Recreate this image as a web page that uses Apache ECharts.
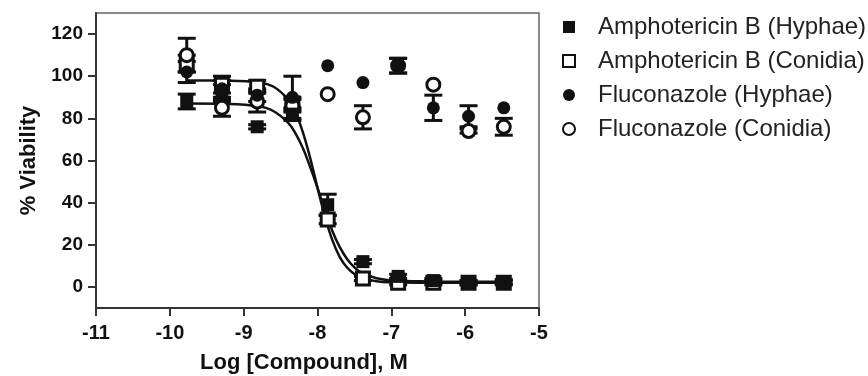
<!DOCTYPE html>
<html>
<head>
<meta charset="utf-8">
<script src="https://cdn.jsdelivr.net/npm/echarts@6/dist/echarts.min.js"></script>
<style>
  html, body { margin: 0; padding: 0; background: #fff; }
  #chart { width: 868px; height: 376px; }
</style>
</head>
<body>
<div id="chart"></div>
<script>
// log10 of compound concentration (M), 3-fold dilution series
const logConc = [-9.771, -9.294, -8.817, -8.340, -7.862, -7.385, -6.908, -6.431, -5.954, -5.477]

// % viability (mean) and error (SEM)
const amphoHyphae = [88, 92, 76, 82, 39, 12, 5, 3, 2, 2.5]
const amphoHyphaeErr = [3.5, 4, 1, 3, 5, 1, 1, 1, 1, 1]
const amphoConidia = [106, 96, 95, 87, 32, 4, 2, 2, 2, 2]
const amphoConidiaErr = [4, 4, 3, 3, 2, 1, 1, 1, 1, 1]
const flucoHyphae = [102, 94, 91, 90, 105, 97, 105, 85, 81, 85]
const flucoHyphaeErr = [5, 4, 3, 10, 0, 0, 3.5, 6, 5, 0]
const flucoConidia = [110, 85, 88, 86, 91.5, 80.5, 105, 96, 74, 76]
const flucoConidiaErr = [8, 4, 5, 3, 0, 5.5, 3.5, 0, 1, 4]

// fitted dose-response curves
const fitX = [-9.771, -9.2, -8.8, -8.6, -8.4, -8.3, -8.2, -8.1, -8.0, -7.9, -7.8, -7.7, -7.6, -7.5, -7.4, -7.2, -7.0, -6.5, -6.0, -5.477]
const fitHyphae = [87, 86.8, 85.7, 83.5, 78, 73, 66, 57, 47, 36.3, 26.7, 19, 13.3, 9.3, 6.7, 4.1, 3.1, 2.6, 2.5, 2.5]
const fitConidia = [98, 97.9, 97.1, 95.1, 89, 82.9, 73.6, 61.3, 47.1, 33.5, 22.3, 14.3, 9.2, 6.1, 4.3, 2.7, 2.2, 2, 2, 2]

const seriesNames = ['Amphotericin B (Hyphae)', 'Amphotericin B (Conidia)', 'Fluconazole (Hyphae)', 'Fluconazole (Conidia)']
const yTicks = [0, 20, 40, 60, 80, 100, 120]
const xTitle = 'Log [Compound], M'

const ink = '#111'
const squareIcon = 'path://M0,0H10V10H0Z'

const pairs = (xs, ys) => xs.map((x, i) => [x, ys[i]])
const bars = (vals, errs) => logConc.map((x, i) => [x, vals[i] - errs[i], vals[i] + errs[i]])

function errorBar(params, api) {
  const x = api.value(0)
  const lo = api.coord([x, api.value(1)])
  const hi = api.coord([x, api.value(2)])
  if (Math.abs(lo[1] - hi[1]) < 0.5) return null
  const w = 9
  const style = { stroke: ink, lineWidth: 3 }
  return {
    type: 'group',
    children: [
      { type: 'line', shape: { x1: lo[0], y1: lo[1], x2: hi[0], y2: hi[1] }, style },
      { type: 'line', shape: { x1: hi[0] - w, y1: hi[1], x2: hi[0] + w, y2: hi[1] }, style },
      { type: 'line', shape: { x1: lo[0] - w, y1: lo[1], x2: lo[0] + w, y2: lo[1] }, style },
    ],
  }
}

const filled = { color: ink, opacity: 1 }
const open = { color: '#fff', borderColor: ink, borderWidth: 3, opacity: 1 }

const chart = echarts.init(document.getElementById('chart'))

const option = {
  animation: false,
  textStyle: { fontFamily: 'Liberation Sans, Arial, sans-serif' },
  grid: {
    left: 96,
    right: 329,
    top: 13,
    bottom: 68,
    outerBoundsMode: 'none',
    show: true,
    borderColor: '#666',
    borderWidth: 1.5,
  },
  graphic: [
    {
      type: 'text',
      left: 317 - 117,
      top: 352,
      style: {
        text: xTitle,
        width: 234,
        align: 'center',
        fontSize: 22,
        fontWeight: 'bold',
        fill: ink,
        fontFamily: 'Liberation Sans, Arial, sans-serif',
      },
    },
  ],
  legend: {
    orient: 'vertical',
    left: 562,
    top: 15,
    padding: 0,
    itemWidth: 48,
    itemHeight: 12,
    itemGap: 10,
    data: [
      { name: seriesNames[0], icon: squareIcon },
      { name: seriesNames[1], icon: squareIcon },
      { name: seriesNames[2], icon: 'circle' },
      { name: seriesNames[3], icon: 'circle' },
    ],
    textStyle: { fontSize: 24, color: '#222', fontFamily: 'Liberation Sans, Arial, sans-serif' },
  },
  xAxis: {
    type: 'value',
    min: -11,
    max: -5,
    interval: 1,
    axisLine: { onZero: false, lineStyle: { color: '#333', width: 2 } },
    axisTick: { length: 8, lineStyle: { color: '#333', width: 2 } },
    axisLabel: { fontSize: 20, fontWeight: 'bold', color: ink, margin: 15 },
    splitLine: { show: false },
  },
  yAxis: {
    type: 'value',
    min: -10,
    max: 130,
    name: '% Viability',
    nameLocation: 'middle',
    nameGap: 56,
    nameMoveOverlap: false,
    nameTextStyle: { fontSize: 22, fontWeight: 'bold', color: ink },
    axisLine: { onZero: false, lineStyle: { color: '#333', width: 2 } },
    axisTick: { length: 8, lineStyle: { color: '#333', width: 2 }, customValues: yTicks },
    axisLabel: { fontSize: 19, fontWeight: 'bold', color: ink, margin: 13, customValues: yTicks },
    splitLine: { show: false },
  },
  series: [
    {
      name: 'fitHyphae',
      type: 'line',
      data: pairs(fitX, fitHyphae),
      smooth: 0.4,
      showSymbol: false,
      lineStyle: { color: ink, width: 2.5 },
      z: 1,
    },
    {
      name: 'fitConidia',
      type: 'line',
      data: pairs(fitX, fitConidia),
      smooth: 0.4,
      showSymbol: false,
      lineStyle: { color: ink, width: 2.5 },
      z: 1,
    },
    { type: 'custom', renderItem: errorBar, data: bars(amphoHyphae, amphoHyphaeErr), z: 2 },
    { type: 'custom', renderItem: errorBar, data: bars(amphoConidia, amphoConidiaErr), z: 2 },
    { type: 'custom', renderItem: errorBar, data: bars(flucoHyphae, flucoHyphaeErr), z: 2 },
    { type: 'custom', renderItem: errorBar, data: bars(flucoConidia, flucoConidiaErr), z: 2 },
    {
      name: seriesNames[0],
      type: 'scatter',
      symbol: 'rect',
      symbolSize: 13,
      data: pairs(logConc, amphoHyphae),
      itemStyle: filled,
      z: 4,
    },
    {
      name: seriesNames[1],
      type: 'scatter',
      symbol: 'rect',
      symbolSize: 13,
      data: pairs(logConc, amphoConidia),
      itemStyle: open,
      z: 3,
    },
    {
      name: seriesNames[2],
      type: 'scatter',
      symbol: 'circle',
      symbolSize: 13,
      data: pairs(logConc, flucoHyphae),
      itemStyle: filled,
      z: 4,
    },
    {
      name: seriesNames[3],
      type: 'scatter',
      symbol: 'circle',
      symbolSize: 13,
      data: pairs(logConc, flucoConidia),
      itemStyle: open,
      z: 3,
    },
  ],
}

chart.setOption(option)
window.addEventListener('resize', () => chart.resize())
</script>
</body>
</html>
